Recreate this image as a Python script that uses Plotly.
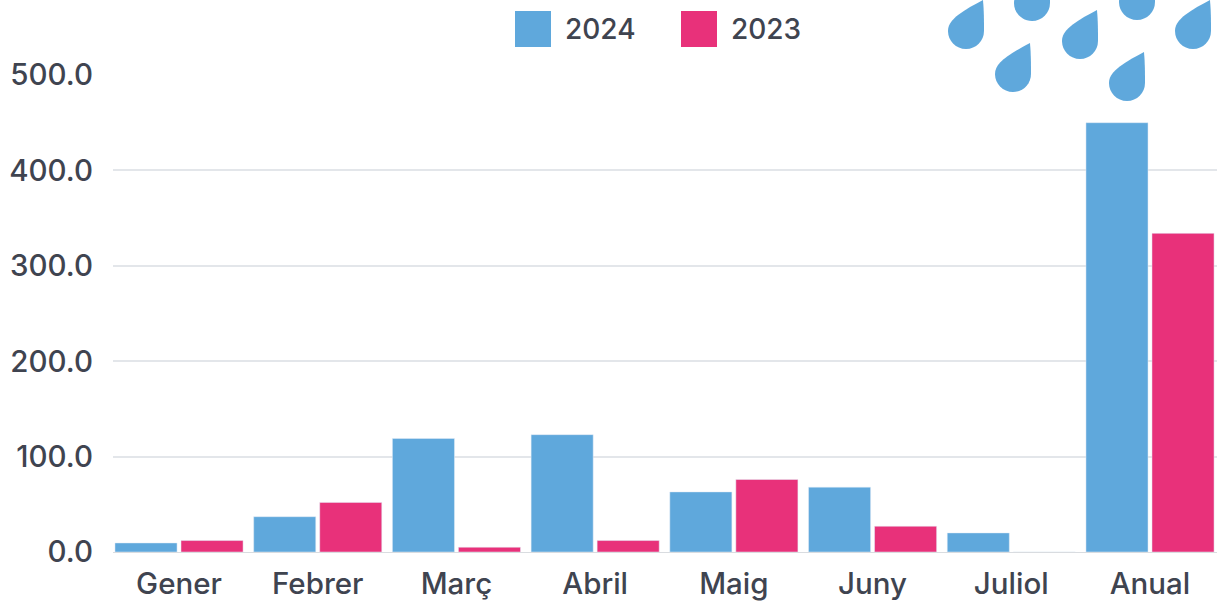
import plotly.graph_objects as go

months = ["Gener", "Febrer", "Març", "Abril", "Maig", "Juny", "Juliol", "Anual"]
rain_2024 = [9.5, 37, 119, 123, 63, 68, 20, 450]
rain_2023 = [12, 52, 5, 12, 76, 27, 0, 334]
y_ticks = [0, 100, 200, 300, 400, 500]
y_labels = ["0.0", "100.0", "200.0", "300.0", "400.0", "500.0"]

W, H = 1217, 602
L, T, B = 113, 75, 50
BLUE, PINK = "#5FA8DC", "#E8317A"
INK = "#3F4450"
FONT = "Inter, Noto Sans, sans-serif"

fig = go.Figure()
fig.add_bar(x=months, y=rain_2024, name="2024", marker_color=BLUE, showlegend=False)
fig.add_bar(x=months, y=rain_2023, name="2023", marker_color=PINK, showlegend=False)


# "paper" coordinates refer to the plot area, so convert from page pixels
def px(x):
    return (x - L) / (W - L)


def py(y):
    return 1 - (y - T) / (H - T - B)


def pt(a, b):
    return f"{px(a):.5f},{py(b):.5f}"


def drop(cx, cy):
    # decorative raindrop: round body, tip pointing up-right
    r, k = 18.0, 10.0
    return (
        f"M{pt(cx + r - 1, cy - 31)} "
        f"C{pt(cx + r, cy - 20)} {pt(cx + r, cy - 10)} {pt(cx + r, cy)} "
        f"C{pt(cx + r, cy + k)} {pt(cx + k, cy + r)} {pt(cx, cy + r)} "
        f"C{pt(cx - k, cy + r)} {pt(cx - r, cy + k)} {pt(cx - r, cy)} "
        f"C{pt(cx - r, cy - 10)} {pt(cx - 8, cy - 18)} {pt(cx + r - 1, cy - 31)} Z"
    )


drops = [(966, 31), (1032, 3), (1080, 41), (1137, 2), (1193, 31), (1013, 74), (1127, 83)]
shapes = [
    dict(type="path", xref="paper", yref="paper", path=drop(a, b), fillcolor=BLUE, line_width=0, layer="above")
    for a, b in drops
]
for x0, c in [(515, BLUE), (681, PINK)]:
    shapes.append(dict(type="rect", xref="paper", yref="paper", x0=px(x0), x1=px(x0 + 36),
                       y0=py(47), y1=py(11), fillcolor=c, line_width=0))
annotations = [
    dict(text=t, x=px(x0), y=py(29), xref="paper", yref="paper", xanchor="left", yanchor="middle",
         showarrow=False, font=dict(family=FONT, size=28, color=INK, weight=500))
    for t, x0 in [("2024", 563), ("2023", 729)]
]

fig.update_layout(
    width=W, height=H, autosize=False,
    margin=dict(l=L, r=0, t=T, b=B),
    paper_bgcolor="white", plot_bgcolor="white",
    barmode="group", bargap=0.048, bargroupgap=0.06,
    font=dict(family=FONT, size=29, color=INK),
    shapes=shapes, annotations=annotations,
    xaxis=dict(range=[-0.476, 7.483], showgrid=False, zeroline=False, showline=True,
               linecolor="#D9DCE0", linewidth=1, ticks="", ticklabelstandoff=6,
               tickfont=dict(size=29.5, weight=500)),
    yaxis=dict(range=[0, 500], tickvals=y_ticks, ticktext=y_labels, gridcolor="#E3E6EA",
               gridwidth=1.5, zeroline=False, ticks="", ticklabelstandoff=19,
               tickfont=dict(size=29.5, weight=500)),
)
fig.write_html("out.html", config=dict(displayModeBar=False),
               post_script="document.body.style.margin='0';")
